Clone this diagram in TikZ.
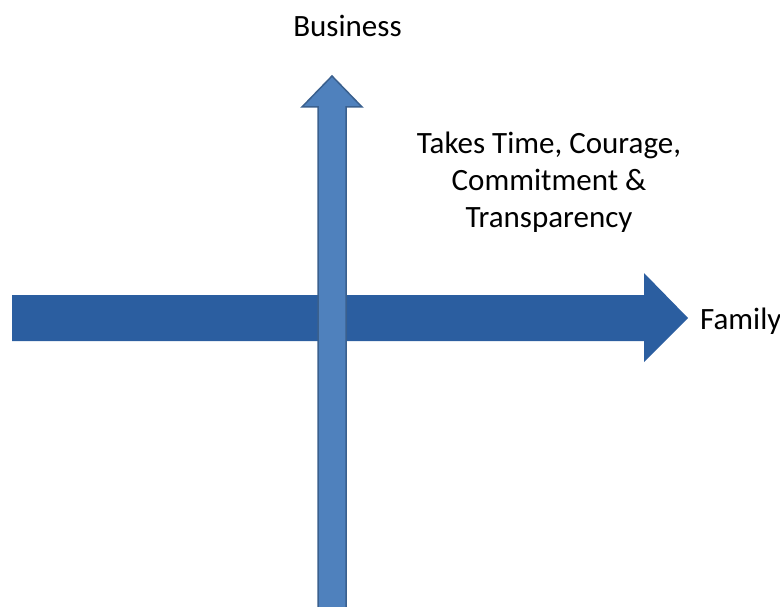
\documentclass[tikz,border=0pt]{standalone}
\usepackage{fontspec}
\setmainfont{Carlito}
\definecolor{famblue}{RGB}{43,94,160}
\definecolor{busblue}{RGB}{79,129,189}
\definecolor{busline}{RGB}{58,96,142}

\begin{document}
\begin{tikzpicture}[x=1pt,y=-1pt]
    \tikzset{label text/.style={font=\fontsize{31}{37}\selectfont, inner sep=0pt}}
    \useasboundingbox (0,0) rectangle (780,607);

    % Family axis: wide block arrow pointing right
    \fill[famblue] (12,295) -- (644,295) -- (644,273) -- (688,318)
        -- (644,362) -- (644,341) -- (12,341) -- cycle;

    % Business axis: narrow block arrow pointing up, drawn on top
    \draw[busline, fill=busblue, line width=1.5pt] (318,612) -- (318,107) -- (302,107)
        -- (332,76) -- (362,107) -- (346,107) -- (346,612);

    % axis labels and note
    \node[label text, anchor=base] (business) at (347.5,37) {Business};
    \node[label text, anchor=base west] (family) at (700,329) {Family};
    \node[label text, align=center] (note) at (549,182.5)
        {Takes Time, Courage,\\ Commitment \&\\ Transparency};
\end{tikzpicture}
\end{document}
